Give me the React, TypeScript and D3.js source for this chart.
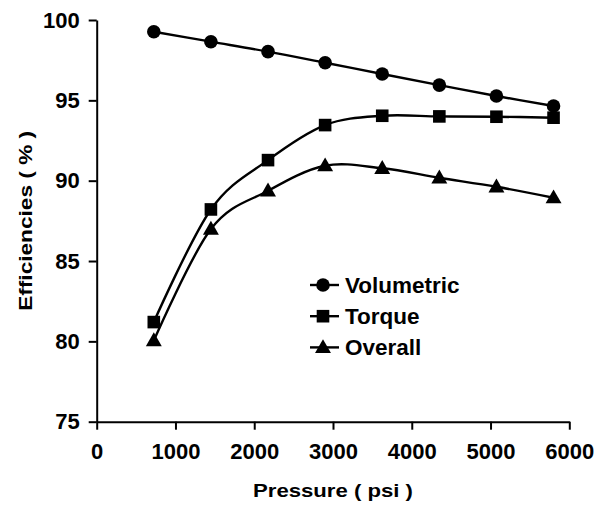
import { useEffect, useRef } from "react";
import * as d3 from "d3";

const pressures = [725, 1450, 2175, 2900, 3625, 4350, 5075, 5800];
const volumetric = [99.27, 98.65, 98.03, 97.34, 96.64, 95.95, 95.27, 94.65];
const torque = [81.2, 88.21, 91.28, 93.46, 94.04, 94.0, 93.98, 93.92];
const overall = [80.05, 86.99, 89.37, 90.93, 90.77, 90.18, 89.62, 88.94];

const seriesNames = ["Volumetric", "Torque", "Overall"];
const xTicks = [0, 1000, 2000, 3000, 4000, 5000, 6000];
const yTicks = [75, 80, 85, 90, 95, 100];

const FONT = "'Liberation Sans', Arial, Helvetica, sans-serif";

type Marker = "circle" | "square" | "triangle";

function drawMarker(
  sel: d3.Selection<SVGGElement, unknown, null, undefined>,
  kind: Marker,
  x: number,
  y: number,
) {
  if (kind === "circle") {
    sel.append("circle").attr("cx", x).attr("cy", y).attr("r", 6.8).attr("fill", "#000");
  } else if (kind === "square") {
    sel
      .append("rect")
      .attr("x", x - 6.3)
      .attr("y", y - 6.3)
      .attr("width", 12.6)
      .attr("height", 12.6)
      .attr("fill", "#000");
  } else {
    const s = d3.symbol(d3.symbolTriangle, 110)();
    sel
      .append("path")
      .attr("d", s)
      .attr("transform", `translate(${x},${y + 1})`)
      .attr("fill", "#000");
  }
}

export default function App() {
  const svgRef = useRef<SVGSVGElement>(null);
  const width = 595;
  const height = 505;

  useEffect(() => {
    if (!svgRef.current) return;
    const svg = d3.select(svgRef.current);
    svg.selectAll("*").remove();

    const x = d3.scaleLinear().domain([0, 6000]).range([96.7, 569.3]);
    const y = d3.scaleLinear().domain([75, 100]).range([421.7, 20]);

    const g = svg.append("g");

    // axes
    const xAxis = g
      .append("g")
      .attr("transform", `translate(0,${y(75)})`)
      .call(
        d3
          .axisBottom(x)
          .tickValues(xTicks)
          .tickFormat(d3.format("d"))
          .tickSize(8)
          .tickSizeOuter(0)
          .tickPadding(14),
      );
    const yAxis = g
      .append("g")
      .attr("transform", `translate(${x(0)},0)`)
      .call(d3.axisLeft(y).tickValues(yTicks).tickSize(8).tickSizeOuter(0).tickPadding(9));

    [xAxis, yAxis].forEach((ax) => {
      ax.select(".domain").attr("stroke", "#000").attr("stroke-width", 2);
      ax.selectAll(".tick line").attr("stroke", "#000").attr("stroke-width", 2);
      ax.selectAll(".tick text")
        .attr("fill", "#000")
        .attr("font-family", FONT)
        .attr("font-weight", "bold")
        .attr("font-size", "22px");
    });

    // series
    const all = [
      { values: volumetric, marker: "circle" as Marker },
      { values: torque, marker: "square" as Marker },
      { values: overall, marker: "triangle" as Marker },
    ];

    const line = d3
      .line<[number, number]>()
      .x((d) => x(d[0]))
      .y((d) => y(d[1]))
      .curve(d3.curveCatmullRom.alpha(0));

    all.forEach((s) => {
      const pts: [number, number][] = pressures.map((p, i) => [p, s.values[i]]);
      g.append("path")
        .attr("d", line(pts))
        .attr("fill", "none")
        .attr("stroke", "#000")
        .attr("stroke-width", 2.4);
      const mg = g.append("g");
      pts.forEach((d) => drawMarker(mg, s.marker, x(d[0]), y(d[1])));
    });

    // legend
    const legend = g.append("g").attr("transform", "translate(310,285)");
    seriesNames.forEach((name, i) => {
      const row = legend.append("g").attr("transform", `translate(0,${i * 31.2})`);
      row
        .append("line")
        .attr("x1", 0)
        .attr("x2", 29)
        .attr("y1", 0)
        .attr("y2", 0)
        .attr("stroke", "#000")
        .attr("stroke-width", 2.4);
      drawMarker(row, all[i].marker, 13, 0);
      row
        .append("text")
        .attr("x", 35)
        .attr("y", 7.5)
        .attr("font-family", FONT)
        .attr("font-weight", "bold")
        .attr("font-size", "22.5px")
        .attr("fill", "#000")
        .text(name);
    });

    // axis titles
    g.append("text")
      .attr("x", (x(0) + x(6000)) / 2)
      .attr("y", 496.7)
      .attr("text-anchor", "middle")
      .attr("font-family", FONT)
      .attr("font-weight", "bold")
      .attr("font-size", "19px")
      .attr("textLength", 160)
      .attr("lengthAdjust", "spacingAndGlyphs")
      .attr("fill", "#000")
      .text("Pressure ( psi )");

    g.append("text")
      .attr("transform", `translate(31.5,${(y(75) + y(100)) / 2}) rotate(-90)`)
      .attr("text-anchor", "middle")
      .attr("font-family", FONT)
      .attr("font-weight", "bold")
      .attr("font-size", "19px")
      .attr("textLength", 180)
      .attr("lengthAdjust", "spacingAndGlyphs")
      .attr("fill", "#000")
      .text("Efficiencies ( % )");
  }, []);

  return (
    <svg
      ref={svgRef}
      width={width}
      height={height}
      style={{ position: "absolute", left: 0, top: 0, background: "#fff" }}
    />
  );
}
